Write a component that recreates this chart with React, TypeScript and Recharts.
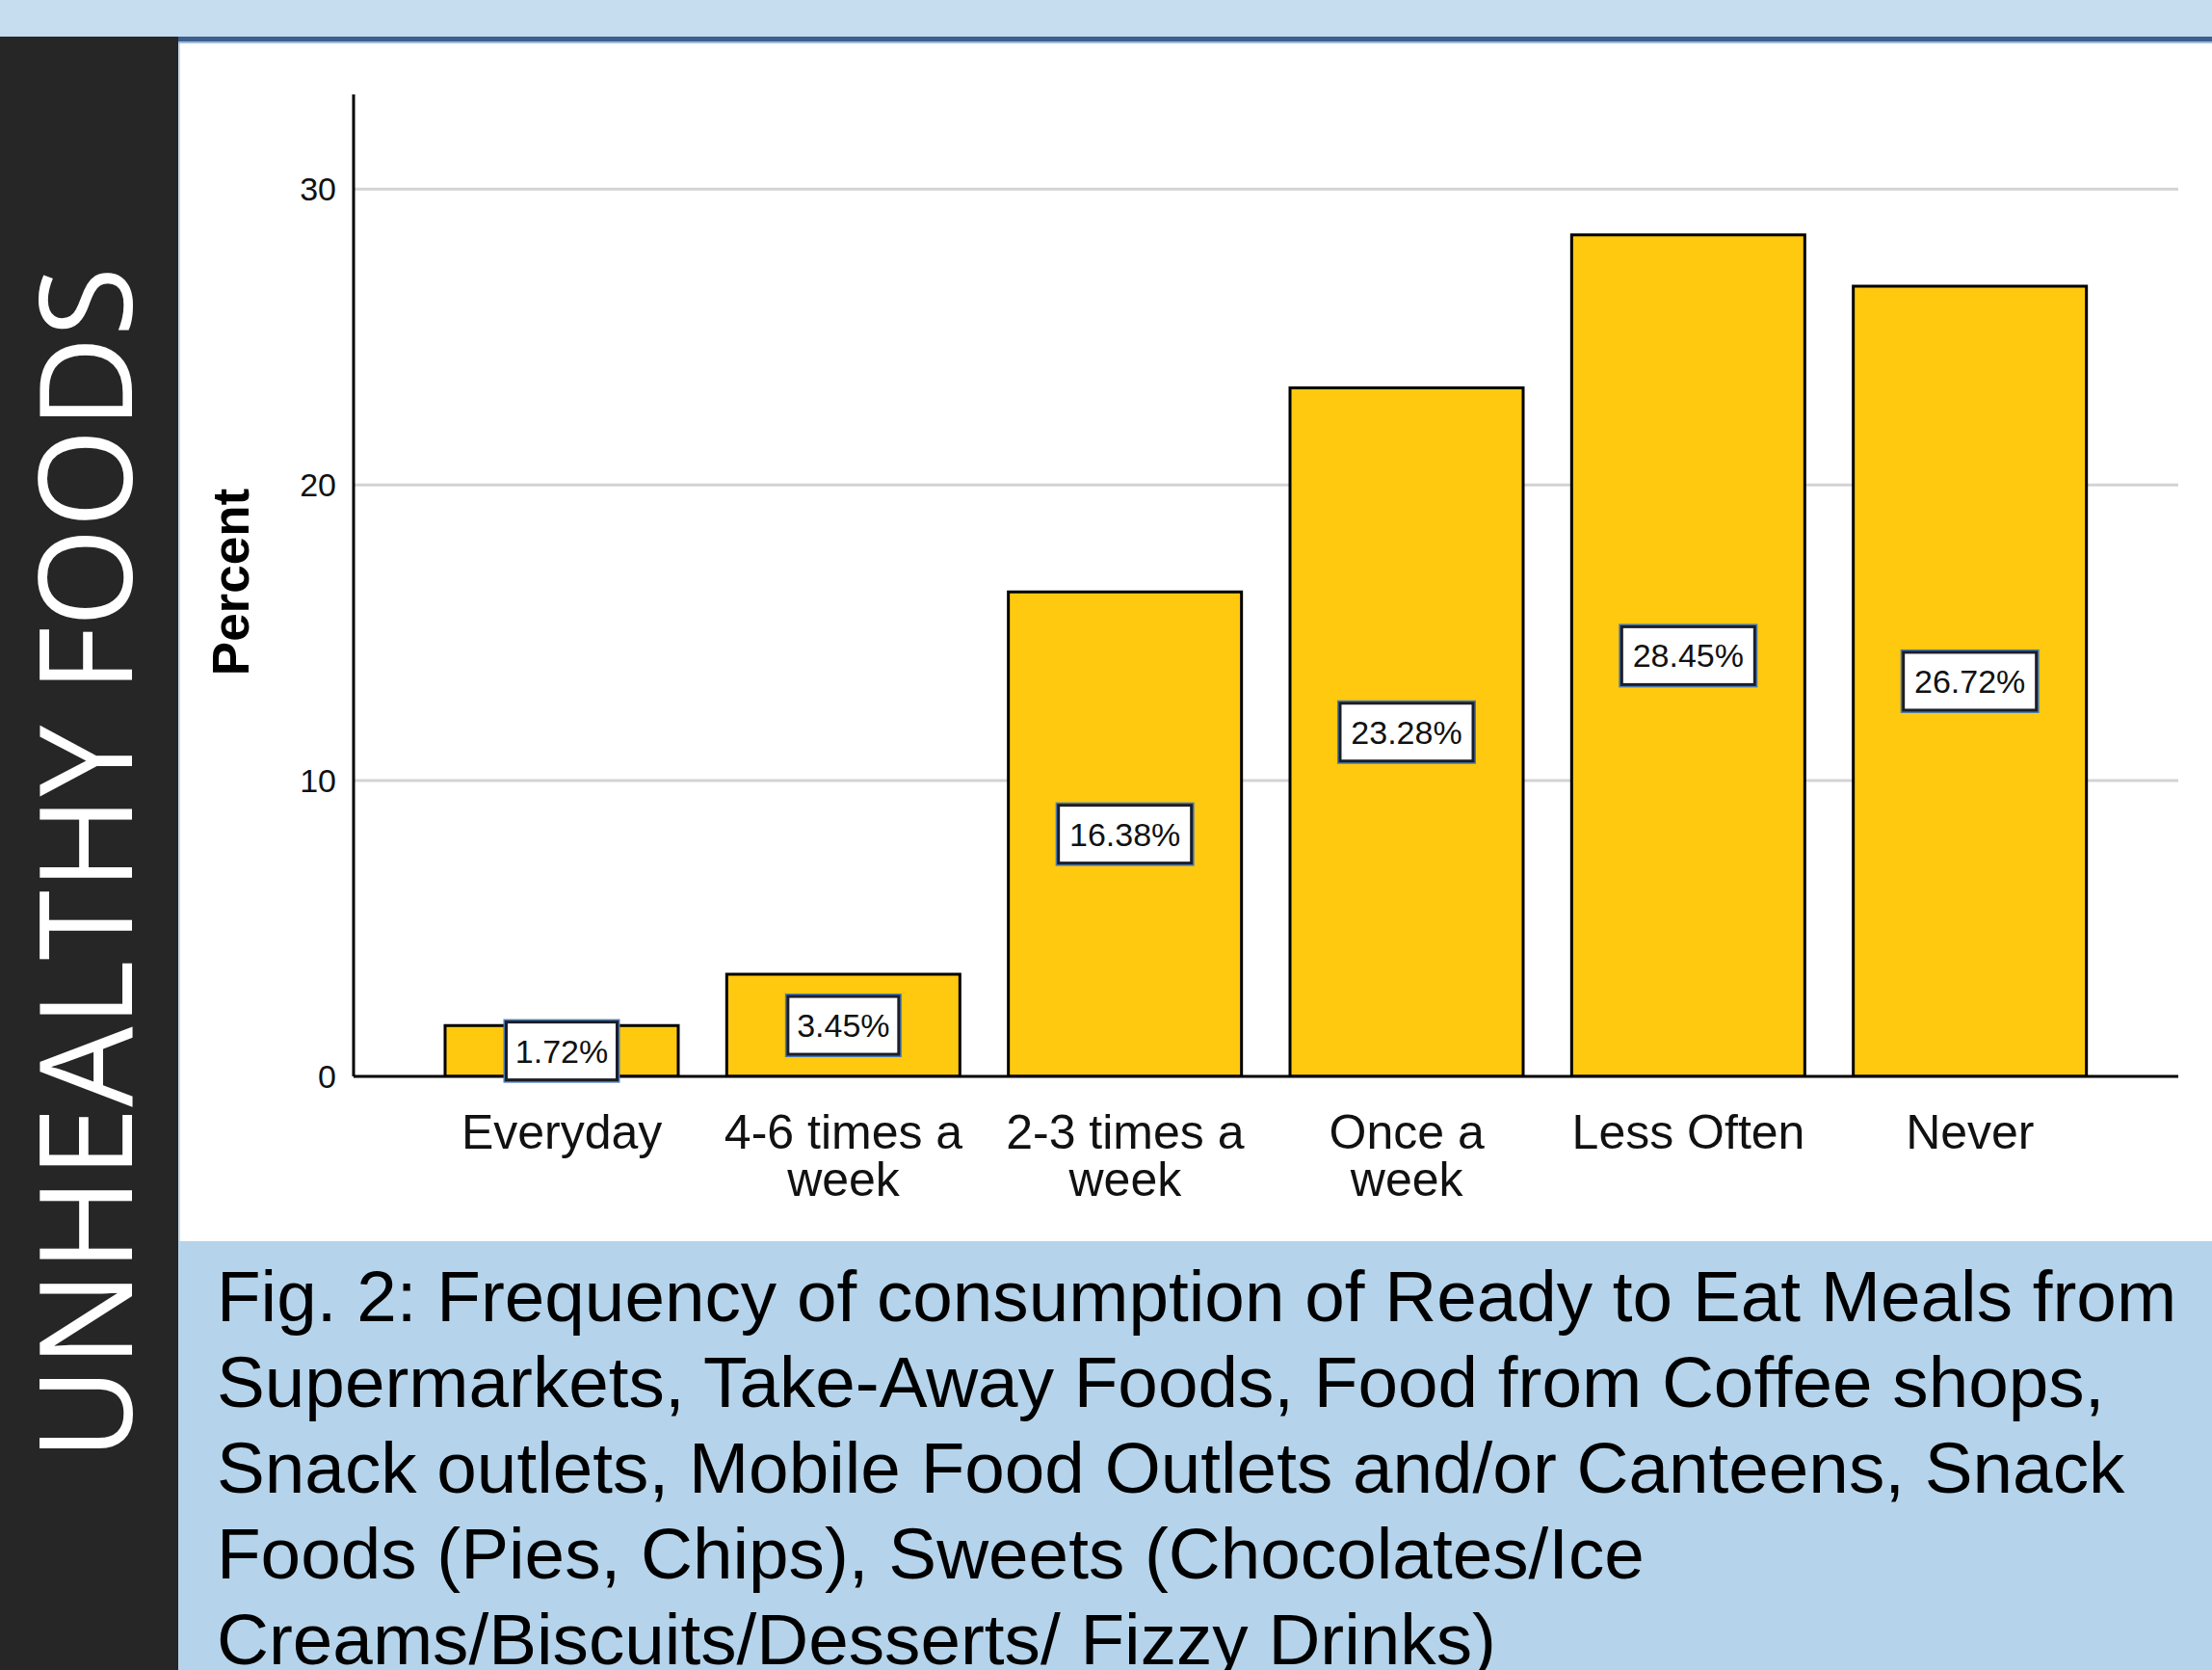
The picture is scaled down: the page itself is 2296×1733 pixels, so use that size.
import { BarChart, Bar, XAxis, YAxis, CartesianGrid, LabelList } from "recharts";

// frequency categories, "\n" marks where the axis label wraps
const categories = [
  "Everyday",
  "4-6 times a\nweek",
  "2-3 times a\nweek",
  "Once a\nweek",
  "Less Often",
  "Never",
];
const percents = [1.72, 3.45, 16.38, 23.28, 28.45, 26.72];
const yTicks = [0, 10, 20, 30];
const gridValues = [10, 20, 30];

const sideTitle = "UNHEALTHY FOODS";
const yTitle = "Percent";
const captionLines = [
  "Fig. 2: Frequency of consumption of Ready to Eat Meals from",
  "Supermarkets, Take-Away Foods, Food from Coffee shops,",
  "Snack outlets, Mobile Food Outlets and/or Canteens, Snack",
  "Foods (Pies, Chips), Sweets (Chocolates/Ice",
  "Creams/Biscuits/Desserts/ Fizzy Drinks)",
];

const data = categories.map((name, i) => ({ name, percent: percents[i] }));

const FONT = "'Liberation Sans', Arial, Helvetica, sans-serif";

const CategoryTick = ({ x, y, payload }: any) => {
  const lines = String(payload.value).split("\n");
  return (
    <g transform={`translate(${x},${y})`}>
      {lines.map((line, i) => (
        <text
          key={i}
          x={0}
          y={75 + i * 49}
          textAnchor="middle"
          fontSize={50}
          fontFamily={FONT}
          fill="#111"
        >
          {line}
        </text>
      ))}
    </g>
  );
};

const PercentTick = ({ x, y, payload }: any) => (
  <text x={x} y={y + 12} textAnchor="end" fontSize={34} fontFamily={FONT} fill="#111">
    {payload.value}
  </text>
);

const PercentTitle = () => (
  <text
    transform="translate(71, 559) rotate(-90)"
    textAnchor="middle"
    fontSize={53}
    fontWeight="bold"
    fontFamily={FONT}
    fill="#000"
  >
    {yTitle}
  </text>
);

// white boxed value label sitting in the middle of each bar
const ValueBox = (props: any) => {
  const { x, y, width, height, value } = props;
  const text = `${Number(value).toFixed(2)}%`;
  const cx = x + width / 2;
  const cy = y + height / 2;
  const w = text.length * 23;
  const h = 60;
  return (
    <g>
      <rect
        x={cx - w / 2 - 2}
        y={cy - h / 2 - 2}
        width={w + 4}
        height={h + 4}
        fill="none"
        stroke="#4A7AB6"
        strokeWidth={2}
      />
      <rect
        x={cx - w / 2}
        y={cy - h / 2}
        width={w}
        height={h}
        fill="#fff"
        stroke="#1B1E28"
        strokeWidth={3}
      />
      <text x={cx} y={cy + 12} textAnchor="middle" fontSize={34} fontFamily={FONT} fill="#111">
        {text}
      </text>
    </g>
  );
};

const App = () => {
  return (
    <div
      style={{
        position: "absolute",
        left: 0,
        top: 0,
        width: 2296,
        height: 1733,
        overflow: "hidden",
        background: "#C6DCEF",
      }}
    >
      {/* dark side panel with the vertical title */}
      <svg
        width={185}
        height={1695}
        style={{ position: "absolute", left: 0, top: 38, display: "block" }}
      >
        <rect x={0} y={0} width={185} height={1695} fill="#262626" />
        <text
          transform="translate(137, 858) rotate(-90)"
          textAnchor="middle"
          fontSize={134}
          fontFamily="'Open Sans', 'Liberation Sans', sans-serif"
          fill="#fff"
          textLength={1238}
          lengthAdjust="spacingAndGlyphs"
        >
          {sideTitle}
        </text>
      </svg>

      {/* header rule */}
      <div style={{ position: "absolute", left: 185, top: 38, width: 2111, height: 5, background: "#3E5F8C" }} />
      <div style={{ position: "absolute", left: 185, top: 43, width: 2111, height: 2, background: "#9EBCDC" }} />

      {/* chart area */}
      <div style={{ position: "absolute", left: 187, top: 45, width: 2109, height: 1243, background: "#fff" }}>
        <BarChart
          width={2109}
          height={1243}
          data={data}
          margin={{ top: 53, right: 35, left: 80, bottom: 21 }}
        >
          <CartesianGrid
            vertical={false}
            horizontalValues={gridValues}
            stroke="#D3D3D3"
            strokeWidth={3}
          />
          <XAxis
            dataKey="name"
            interval={0}
            height={150}
            padding={{ left: 70, right: 70 }}
            axisLine={{ stroke: "#000", strokeWidth: 3 }}
            tickLine={false}
            tickSize={0}
            tickMargin={0}
            tick={<CategoryTick />}
          />
          <YAxis
            width={100}
            domain={[0, 33.2]}
            ticks={yTicks}
            allowDataOverflow
            axisLine={{ stroke: "#000", strokeWidth: 3 }}
            tickLine={false}
            tickSize={0}
            tickMargin={18}
            tick={<PercentTick />}
            label={<PercentTitle />}
          />
          <Bar
            dataKey="percent"
            fill="#FFC90F"
            stroke="#000"
            strokeWidth={3}
            barSize={242}
            isAnimationActive={false}
          >
            <LabelList dataKey="percent" content={<ValueBox />} />
          </Bar>
        </BarChart>
      </div>

      {/* caption band */}
      <div
        style={{
          position: "absolute",
          left: 185,
          top: 1288,
          width: 2111,
          height: 445,
          background: "#B5D4EB",
        }}
      >
        <div
          style={{
            position: "absolute",
            left: 40,
            top: 13,
            fontFamily: FONT,
            fontSize: 74.7,
            lineHeight: "89px",
            color: "#000",
            whiteSpace: "pre",
          }}
        >
          {captionLines.map((line, i) => (
            <div key={i}>{line}</div>
          ))}
        </div>
      </div>
    </div>
  );
};

export default App;
